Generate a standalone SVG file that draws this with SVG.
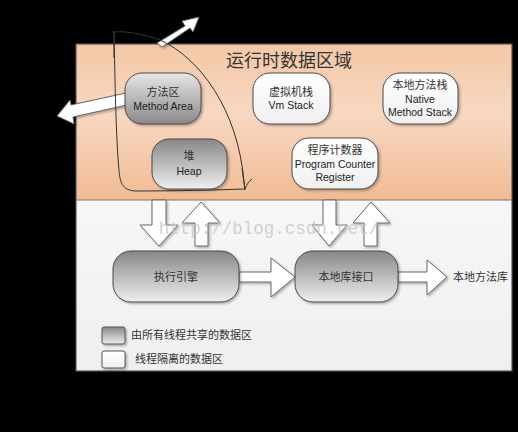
<svg xmlns="http://www.w3.org/2000/svg" width="518" height="432" viewBox="0 0 518 432">
<defs>
<linearGradient id="orange" x1="0" y1="0" x2="0" y2="1">
<stop offset="0" stop-color="#f4c7a6"/>
<stop offset="0.45" stop-color="#f8d8c2"/>
<stop offset="1" stop-color="#f1bb93"/>
</linearGradient>
<linearGradient id="lower" x1="0" y1="0" x2="0" y2="1">
<stop offset="0" stop-color="#f7f7f7"/>
<stop offset="1" stop-color="#efefef"/>
</linearGradient>
<linearGradient id="grayDown" x1="0" y1="0" x2="0" y2="1">
<stop offset="0" stop-color="#e6e6e6"/>
<stop offset="1" stop-color="#8a8a8a"/>
</linearGradient>
<linearGradient id="grayUp" x1="0" y1="0" x2="0" y2="1">
<stop offset="0" stop-color="#878787"/>
<stop offset="1" stop-color="#efefef"/>
</linearGradient>
<linearGradient id="white" x1="0" y1="0" x2="0" y2="1">
<stop offset="0" stop-color="#ffffff"/>
<stop offset="1" stop-color="#f0f0f0"/>
</linearGradient>
<filter id="sh" x="-10%" y="-10%" width="130%" height="130%">
<feDropShadow dx="1.5" dy="1.5" stdDeviation="1" flood-color="#000" flood-opacity="0.3"/>
</filter>
</defs>
<style>
.node{stroke:#4a4a4a;stroke-width:1;filter:url(#sh)}
.t{font-family:"Liberation Sans","Noto Sans CJK SC",sans-serif;font-size:10.5px;fill:#222;text-anchor:middle}
.c{font-family:"Noto Sans CJK SC","Liberation Sans",sans-serif;font-size:11px;fill:#333;text-anchor:middle}
.cl{font-family:"Noto Sans CJK SC","Liberation Sans",sans-serif;font-size:11px;fill:#333;text-anchor:start}
.blk{fill:#ffffff;stroke:#666;stroke-width:1;filter:url(#sh)}
.hand{fill:none;stroke:#333;stroke-width:1}
</style>
<rect x="0" y="0" width="518" height="432" fill="#000"/>
<g id="panel">
<rect x="76" y="44" width="436" height="156" fill="url(#orange)"/>
<rect x="76" y="200" width="436" height="171" fill="url(#lower)"/>
<rect x="76" y="44" width="436" height="327" fill="none" stroke="#555" stroke-width="1.2"/>
<line x1="76" y1="200" x2="512" y2="200" stroke="#777" stroke-width="1"/>
<text x="289" y="67" font-family="Noto Sans CJK SC,Liberation Sans,sans-serif" font-size="18" fill="#333" text-anchor="middle">运行时数据区域</text>
</g>
<g id="connectors">
<path class="blk" d="M152,200 L166,200 L166,225 L178,225 L159,246 L140,225 L152,225 Z"/>
<path class="blk" d="M195,246 L208,246 L208,223 L220,223 L201,202 L182,223 L195,223 Z"/>
<path class="blk" d="M323,200 L336,200 L336,225 L347,225 L329,246 L312,225 L323,225 Z"/>
<path class="blk" d="M364,246 L377,246 L377,223 L390,223 L371,202 L353,223 L364,223 Z"/>
<path class="blk" d="M239,272 L271,272 L271,258 L295,277 L271,297 L271,282 L239,282 Z"/>
<path class="blk" d="M398,272 L427,272 L427,260 L447,277 L427,295 L427,282 L398,282 Z"/>
<path class="blk" d="M126,93 L71,105 L70,100 L57,116 L74,124 L73,117 L127,105 Z"/>
<path class="blk" d="M157,43 L185,26 L182,21 L199,17 L193,32 L190,28 L162,47 Z"/>
</g>
<g id="watermark">
<text x="269" y="234" font-family="Liberation Mono,monospace" font-size="17.5" fill="#c9c9c9" fill-opacity="0.85" text-anchor="middle">http://blog.csdn.net/</text>
</g>
<g id="hand-drawn">
<path class="hand" d="M114,32 C125,31 140,33 160,40 C200,58 238,110 244,182 L245,190"/>
<path class="hand" d="M114,58 L114,31"/>
<path class="hand" d="M114,31 C115,80 116,140 119,170 C120,185 124,190 135,191 C175,191 215,190 245,189"/>
<path class="hand" d="M242,168 C243,176 244,183 245,189 C247,184 249,181 252,179"/>
</g>
<g id="method-area">
<rect class="node" x="125" y="73" width="76" height="51" rx="17" fill="url(#grayDown)"/>
<text class="c" x="163" y="96">方法区</text>
<text class="t" x="163" y="110">Method Area</text>
</g>
<g id="heap">
<rect class="node" x="152" y="139" width="75" height="50" rx="17" fill="url(#grayUp)"/>
<text class="c" x="189" y="160">堆</text>
<text class="t" x="189" y="175">Heap</text>
</g>
<g id="vm-stack">
<rect class="node" x="253" y="73" width="77" height="51" rx="17" fill="url(#white)"/>
<text class="c" x="291" y="96">虚拟机栈</text>
<text class="t" x="291" y="109">Vm Stack</text>
</g>
<g id="native-method-stack">
<rect class="node" x="383" y="73" width="75" height="51" rx="17" fill="url(#white)"/>
<text class="c" x="420" y="89">本地方法栈</text>
<text class="t" x="420" y="103">Native</text>
<text class="t" x="420" y="116">Method Stack</text>
</g>
<g id="program-counter">
<rect class="node" x="292" y="138" width="86" height="51" rx="17" fill="url(#white)"/>
<text class="c" x="335" y="154">程序计数器</text>
<text class="t" x="335" y="168">Program Counter</text>
<text class="t" x="335" y="181">Register</text>
</g>
<g id="exec-engine">
<rect class="node" x="113" y="251" width="126" height="51" rx="18" fill="url(#grayUp)"/>
<text class="c" x="176" y="281">执行引擎</text>
</g>
<g id="native-interface">
<rect class="node" x="295" y="251" width="103" height="51" rx="18" fill="url(#grayUp)"/>
<text class="c" x="346" y="281">本地库接口</text>
</g>
<g id="native-lib">
<text class="cl" x="453" y="281">本地方法库</text>
</g>
<g id="legend">
<rect x="102" y="327" width="23" height="17" rx="2" fill="url(#grayUp)" stroke="#555" filter="url(#sh)"/>
<text class="cl" x="131" y="339">由所有线程共享的数据区</text>
<rect x="102" y="351" width="23" height="17" rx="2" fill="url(#white)" stroke="#555" filter="url(#sh)"/>
<text class="cl" x="135" y="363">线程隔离的数据区</text>
</g>
</svg>
